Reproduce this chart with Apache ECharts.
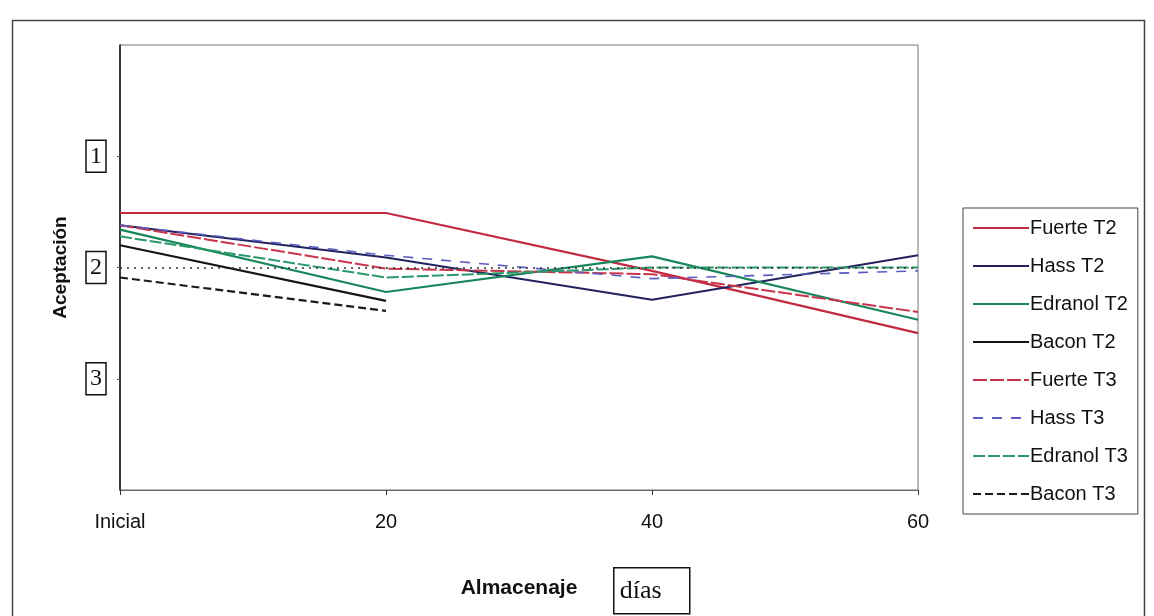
<!DOCTYPE html>
<html>
<head>
<meta charset="utf-8">
<script src="https://cdn.jsdelivr.net/npm/echarts@6/dist/echarts.min.js"></script>
<style>html,body{margin:0;padding:0;background:#fff}#c{width:1154px;height:616px}</style>
</head>
<body>
<div id="c"></div>
<script>
const categories = ['Inicial', '20', '40', '60'];
const seriesNames = ['Fuerte T2', 'Hass T2', 'Edranol T2', 'Bacon T2', 'Fuerte T3', 'Hass T3', 'Edranol T3', 'Bacon T3'];
const fuerteT2 = [1.51, 1.51, 2.03, 2.59];
const hassT2 = [1.62, 1.91, 2.29, 1.89];
const edranolT2 = [1.66, 2.22, 1.90, 2.47];
const baconT2 = [1.80, 2.30, null, null];
const fuerteT3 = [1.62, 2.01, 2.06, 2.40];
const hassT3 = [1.62, 1.89, 2.10, 2.03];
const edranolT3 = [1.72, 2.09, 2.00, 2.00];
const baconT3 = [2.09, 2.39, null, null];
const referenceLevel = 2;
const yTickLabels = {1: '1', 2: '2', 3: '3'};

const values = [fuerteT2, hassT2, edranolT2, baconT2, fuerteT3, hassT3, edranolT3, baconT3];
const styles = [
  {color: '#c22a40', width: 2.2, type: 'solid'},
  {color: '#22225e', width: 2, type: 'solid'},
  {color: '#17865a', width: 2.2, type: 'solid'},
  {color: '#151515', width: 2.2, type: 'solid'},
  {color: '#c8344c', width: 2, type: [14, 3]},
  {color: '#5c5cc0', width: 1.6, type: [10, 9]},
  {color: '#2a9868', width: 2, type: [12, 3]},
  {color: '#1a1a1a', width: 2.2, type: [8, 4]}
];

const series = seriesNames.map((n, i) => ({
  name: n,
  type: 'line',
  data: values[i],
  symbol: 'none',
  connectNulls: false,
  lineStyle: styles[i],
  itemStyle: {color: styles[i].color},
  z: 3
}));
series[0].markLine = {
  silent: true,
  symbol: 'none',
  label: {show: false},
  lineStyle: {color: '#333', type: [2, 5], width: 1.6},
  data: [{yAxis: referenceLevel}]
};

const chart = echarts.init(document.getElementById('c'));
chart.setOption({
  animation: false,
  backgroundColor: '#fff',
  grid: {left: 120, right: 236, top: 45, bottom: 126, show: true, borderColor: '#777', borderWidth: 1},
  legend: {
    orient: 'vertical',
    left: 963, top: 208,
    padding: [10, 10, 10, 9],
    itemWidth: 56, itemHeight: 14, itemGap: 18,
    itemStyle: {opacity: 0},
    borderColor: '#444', borderWidth: 1,
    textStyle: {fontFamily: 'Liberation Sans, Arial', fontSize: 20, color: '#111', padding: [0, 0, 0, -4], lineHeight: 20},
    data: seriesNames
  },
  xAxis: {
    type: 'category',
    data: categories,
    boundaryGap: false,
    name: 'Almacenaje',
    nameLocation: 'middle',
    nameGap: 88,
    nameTextStyle: {fontFamily: 'Liberation Sans, Arial', fontWeight: 'bold', fontSize: 21, color: '#111'},
    axisLine: {onZero: false, lineStyle: {color: '#666', width: 1}},
    axisTick: {show: true, length: 5, lineStyle: {color: '#333'}},
    axisLabel: {fontFamily: 'Liberation Sans, Arial', fontSize: 20, color: '#111', margin: 22},
    splitLine: {show: false}
  },
  yAxis: {
    type: 'value',
    inverse: true,
    min: 0, max: 4, interval: 1,
    name: 'Aceptación',
    nameLocation: 'middle',
    nameGap: 50,
    nameTextStyle: {fontFamily: 'Liberation Sans, Arial', fontWeight: 'bold', fontSize: 19, color: '#111'},
    axisLine: {show: true, onZero: false, lineStyle: {color: '#111', width: 1.5}},
    axisTick: {show: true, length: 3, lineStyle: {color: '#555'}},
    splitLine: {show: false},
    axisLabel: {
      showMinLabel: false, showMaxLabel: false,
      formatter: v => yTickLabels[v] || '',
      fontFamily: 'Liberation Serif, Times New Roman', fontSize: 24, color: '#111',
      borderColor: '#111', borderWidth: 1.5, padding: [5, 4, 3, 4], margin: 14
    }
  },
  graphic: [
    {type: 'rect', left: 10, top: 18, shape: {width: 1132, height: 640}, style: {fill: 'none', stroke: '#444', lineWidth: 1.5}, silent: true},
    {type: 'group', left: 613, top: 567, children: [
      {type: 'rect', shape: {x: 0, y: 0, width: 76, height: 46}, style: {fill: '#fff', stroke: '#111', lineWidth: 1.5}},
      {type: 'text', x: 6, y: 10, style: {text: 'días', fontFamily: 'Liberation Serif, Times New Roman', fontSize: 26, fill: '#111'}}
    ]}
  ],
  series: series
});
</script>
</body>
</html>
